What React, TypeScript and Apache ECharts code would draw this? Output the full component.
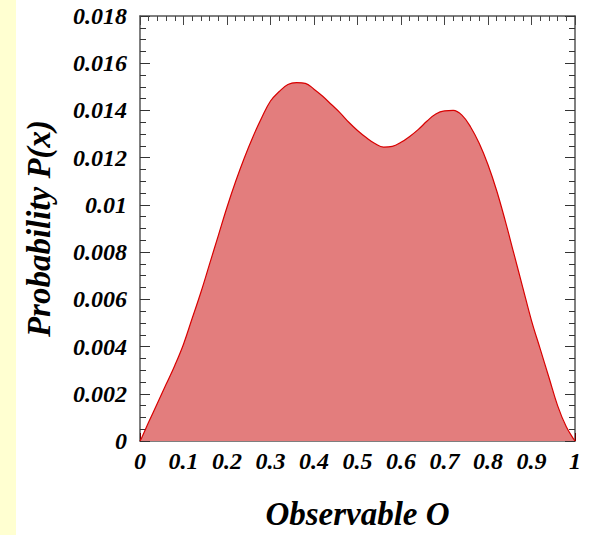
import React, { useEffect, useRef } from "react";
import * as echarts from "echarts";

const xValues = [0, 0.004, 0.02, 0.04, 0.06, 0.08, 0.10, 0.12, 0.14, 0.16, 0.18, 0.20, 0.22, 0.24, 0.26, 0.28, 0.30, 0.32, 0.34, 0.36, 0.38, 0.40, 0.42, 0.44, 0.46, 0.48, 0.50, 0.52, 0.54, 0.56, 0.58, 0.60, 0.62, 0.64, 0.66, 0.68, 0.70, 0.72, 0.74, 0.76, 0.78, 0.80, 0.82, 0.84, 0.86, 0.88, 0.90, 0.92, 0.94, 0.96, 0.98, 1.0];
const probValues = [0, 0.00014, 0.0008, 0.0016, 0.0024, 0.0032, 0.0041, 0.0052, 0.0063, 0.0075, 0.0087, 0.0099, 0.0110, 0.0120, 0.0129, 0.0137, 0.0144, 0.0148, 0.0151, 0.01518, 0.01515, 0.0149, 0.0146, 0.01425, 0.0139, 0.0135, 0.01315, 0.01285, 0.0126, 0.01245, 0.01248, 0.01265, 0.0129, 0.0132, 0.01355, 0.01385, 0.01398, 0.0140, 0.0138, 0.0133, 0.0126, 0.0117, 0.0106, 0.0093, 0.0079, 0.0065, 0.0051, 0.0039, 0.0027, 0.0015, 0.0006, 0];

const xAxisTitle = "Observable O";
const yAxisTitle = "Probability P(x)";

const FONT = "'Liberation Serif', 'DejaVu Serif', serif";

export default function App() {
  const ref = useRef<HTMLDivElement>(null);
  useEffect(() => {
    document.body.style.margin = "0";
    const chart = echarts.init(ref.current!, null, { renderer: "svg" });
    const labelStyle = {
      fontFamily: FONT,
      fontStyle: "italic" as const,
      fontWeight: "bold" as const,
      fontSize: 24,
      color: "#000",
    };
    const titleStyle = {
      fontFamily: FONT,
      fontStyle: "italic" as const,
      fontWeight: "bold" as const,
      fontSize: 33,
      color: "#000",
    };
    const axisLine = { show: true, onZero: false, lineStyle: { color: "#555", width: 1.5 } };
    chart.setOption({
      animation: false,
      backgroundColor: "#fff",
      graphic: [
        { type: "rect", left: 0, top: 0, shape: { width: 16, height: 535 }, style: { fill: "#FFFFD1" }, z: -1 },
      ],
      grid: { left: 140, right: 19, top: 16, bottom: 85 },
      xAxis: [
        {
          type: "value", min: 0, max: 1, interval: 0.1, position: "bottom",
          axisLine,
          axisTick: { show: true, inside: true, length: 8, lineStyle: { color: "#600" } },
          minorTick: { show: true, splitNumber: 5, length: 5, lineStyle: { color: "#600" } },
          splitLine: { show: false },
          axisLabel: { ...labelStyle, margin: 8, formatter: (v: number) => (v === 0 ? "0" : v === 1 ? "1" : v.toFixed(1)) },
          name: xAxisTitle, nameLocation: "middle", nameGap: 56,
          nameTextStyle: titleStyle,
        },
        {
          type: "value", min: 0, max: 1, interval: 0.1, position: "top",
          axisLine,
          axisTick: { show: true, inside: true, length: 9, lineStyle: { color: "#444" } },
          minorTick: { show: true, splitNumber: 5, length: 5, lineStyle: { color: "#444" } },
          splitLine: { show: false },
          axisLabel: { show: false },
        },
      ],
      yAxis: [
        {
          type: "value", min: 0, max: 0.018, interval: 0.002, position: "left",
          axisLine,
          axisTick: { show: true, inside: true, length: 10, lineStyle: { color: "#333" } },
          minorTick: { show: true, splitNumber: 4, length: 6, lineStyle: { color: "#333" } },
          splitLine: { show: false },
          axisLabel: { ...labelStyle, margin: 13, formatter: (v: number) => (v === 0 ? "0" : String(parseFloat(v.toFixed(3)))) },
          name: yAxisTitle, nameLocation: "middle", nameGap: 85, nameRotate: 90,
          nameTextStyle: titleStyle,
        },
        {
          type: "value", min: 0, max: 0.018, interval: 0.002, position: "right",
          axisLine,
          axisTick: { show: true, inside: true, length: 10, lineStyle: { color: "#333" } },
          minorTick: { show: true, splitNumber: 4, length: 6, lineStyle: { color: "#333" } },
          splitLine: { show: false },
          axisLabel: { show: false },
        },
      ],
      series: [
        {
          type: "line",
          data: xValues.map((x, i) => [x, probValues[i]]),
          smooth: 0.4,
          showSymbol: false,
          z: 1,
          lineStyle: { color: "#D80000", width: 1.2 },
          areaStyle: { color: "#E37D7D", opacity: 1 },
        },
      ],
    });
    return () => chart.dispose();
  }, []);
  return <div ref={ref} style={{ position: "absolute", left: 0, top: 0, width: 594, height: 535 }} />;
}
